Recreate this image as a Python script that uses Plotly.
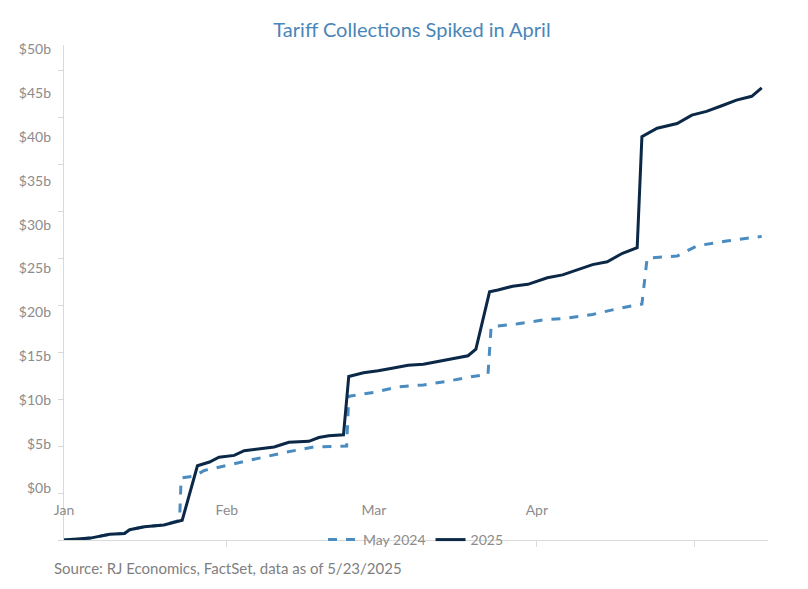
import plotly.graph_objects as go

# Day of year (Jan 1 = 0) and cumulative collections, $b
days_2025 = [0, 5, 8.7, 11.5, 12.5, 15.3, 19, 21, 22.5, 25.4, 27.7, 29.5, 32.4, 34.3, 37.1, 40,
             42.8, 46.6, 48.5, 50.4, 53.2, 54.2, 57, 59.8, 62.7, 65.5, 68.4, 71.2, 74, 76.9,
             78.4, 81, 82.6, 85.4, 88.3, 92, 94.9, 97.7, 100.6, 103.4, 106.3, 109.1, 110,
             112.9, 116.7, 119.5, 122.3, 125.2, 128, 130.9, 132.8]
vals_2025 = [0, 0.2, 0.6, 0.7, 1.1, 1.4, 1.6, 1.9, 2.1, 7.9, 8.3, 8.8, 9.0, 9.5, 9.7, 9.9,
             10.4, 10.5, 10.9, 11.1, 11.2, 17.4, 17.8, 18.0, 18.3, 18.6, 18.7, 19.0, 19.3, 19.6,
             20.3, 26.4, 26.6, 27.0, 27.2, 27.9, 28.2, 28.7, 29.3, 29.6, 30.5, 31.1, 42.9,
             43.8, 44.3, 45.2, 45.6, 46.2, 46.8, 47.2, 48.1]

days_2024 = [0, 5, 8.7, 11.5, 12.5, 15.3, 19, 22, 22.3, 24.8, 26.7, 31.4, 36.2, 41.9, 47.5,
             52.3, 53.8, 54.2, 58.9, 63.6, 68.4, 73.1, 77.8, 80.7, 81.3, 86.4, 91.1, 95.8,
             100.6, 105.3, 110, 111, 116.7, 120.5, 126.1, 132.8]
vals_2024 = [0, 0.2, 0.6, 0.7, 1.1, 1.4, 1.6, 2.1, 6.6, 6.8, 7.4, 8.0, 8.6, 9.3, 9.9,
             10.0, 10.0, 15.3, 15.7, 16.3, 16.5, 16.9, 17.4, 17.6, 22.7, 23.0, 23.4, 23.6,
             24.0, 24.6, 25.1, 30.0, 30.2, 31.3, 31.8, 32.3]

month_days = [0, 31, 59, 90]
month_labels = ['Jan', 'Feb', 'Mar', 'Apr']
tick_days = [31, 59, 90, 120]
y_labels = [0, 5, 10, 15, 20, 25, 30, 35, 40, 45, 50]

grey = '#8c8c8c'
fnt = 'Lato, Open Sans, sans-serif'

fig = go.Figure()
fig.add_trace(go.Scatter(x=days_2024, y=vals_2024, name='May 2024', mode='lines',
                         line=dict(color='#4a8cc0', width=3, dash='dash')))
fig.add_trace(go.Scatter(x=days_2025, y=vals_2025, name='2025', mode='lines',
                         line=dict(color='#0b2847', width=3)))
# invisible trace to carry the secondary axes
fig.add_trace(go.Scatter(x=[None], y=[None], xaxis='x2', yaxis='y2', showlegend=False))

fig.update_layout(
    width=808, height=589,
    paper_bgcolor='white', plot_bgcolor='white',
    font=dict(family=fnt, color=grey, size=14),
    title=dict(text='Tariff Collections Spiked in April', x=0.5, y=0.975, xanchor='center',
               yanchor='top', font=dict(size=20, color='#4a86b8', family=fnt)),
    margin=dict(l=56, r=48, t=37, b=57),
    xaxis=dict(range=[0, 134], showline=True, linecolor='#d9d9d9', showgrid=False,
               zeroline=False, tickvals=tick_days, showticklabels=False,
               ticks='outside', ticklen=6, tickcolor='#d9d9d9'),
    yaxis=dict(range=[0, 52.66], showline=True, linecolor='#d9d9d9', showgrid=False,
               zeroline=False, tickvals=y_labels, showticklabels=False,
               ticks='outside', ticklen=5, tickcolor='#d9d9d9'),
    xaxis2=dict(overlaying='x', anchor='free', position=0.08, range=[0, 134],
                tickvals=month_days, ticktext=month_labels, showline=False,
                showgrid=False, zeroline=False, ticks=''),
    yaxis2=dict(overlaying='y', side='left', range=[-5.92, 50.46], tickvals=y_labels,
                ticktext=[f'${v}b' for v in y_labels], showline=False, showgrid=False,
                zeroline=False, ticks='', ticklabelstandoff=12),
    legend=dict(orientation='h', x=0.5, xanchor='center', y=0.0, yanchor='middle',
                bgcolor='rgba(0,0,0,0)', font=dict(size=14, color=grey), itemwidth=30),
    annotations=[dict(text='Source: RJ Economics, FactSet, data as of 5/23/2025',
                      xref='paper', yref='paper', x=-0.017, y=-0.035, xanchor='left',
                      yanchor='top', showarrow=False, font=dict(size=15, color='#7f7f7f'))],
)

fig.write_html('out.html')
